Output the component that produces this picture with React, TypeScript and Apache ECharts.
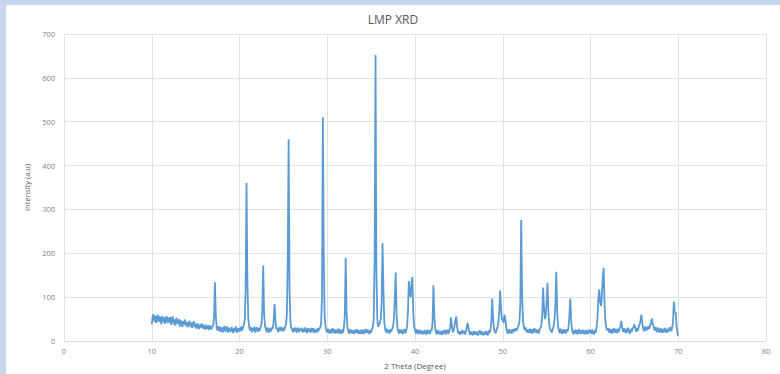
import React, { useEffect, useRef } from "react";
import * as echarts from "echarts";

// Scan settings (uniform 2θ step of the diffractometer scan)
const thetaStart = 10;
const thetaStep = 0.1;

// Intensity (a.u.), 10 values per degree from 10.0° to 70.0°
const intensity: number[] = [
  // 10
  38, 55, 61, 44, 58, 41, 52, 60, 43, 56,
  // 11
  49, 38, 57, 44, 54, 39, 51, 57, 41, 53,
  // 12
  42, 55, 37, 50, 56, 38, 49, 35, 53, 43,
  // 13
  39, 50, 33, 47, 41, 32, 46, 37, 49, 34,
  // 14
  43, 31, 41, 46, 32, 42, 30, 40, 45, 31,
  // 15
  39, 28, 41, 33, 27, 38, 31, 40, 28, 37,
  // 16
  32, 26, 37, 28, 35, 25, 36, 29, 27, 35,
  // 17
  34, 55, 134, 58, 30, 24, 34, 22, 32, 21,
  // 18
  31, 20, 30, 34, 21, 29, 33, 19, 30, 24,
  // 19
  21, 32, 25, 18, 30, 22, 33, 19, 29, 21,
  // 20
  30, 22, 33, 24, 31, 36, 48, 120, 360, 135,
  // 21
  52, 32, 24, 32, 20, 29, 23, 33, 19, 28,
  // 22
  31, 21, 30, 23, 33, 37, 68, 172, 64, 34,
  // 23
  27, 20, 31, 24, 19, 30, 22, 31, 28, 48,
  // 24
  84, 45, 27, 30, 20, 31, 23, 32, 27, 22,
  // 25
  31, 24, 32, 37, 62, 190, 460, 120, 46, 30,
  // 26
  27, 20, 30, 22, 31, 19, 27, 30, 20, 28,
  // 27
  24, 30, 19, 28, 21, 31, 23, 18, 29, 21,
  // 28
  28, 19, 30, 21, 29, 18, 27, 24, 19, 29,
  // 29
  22, 29, 30, 40, 100, 510, 200, 56, 32, 24,
  // 30
  20, 28, 18, 26, 17, 25, 29, 18, 27, 17,
  // 31
  25, 18, 28, 17, 27, 22, 16, 26, 19, 32,
  // 32
  56, 190, 68, 31, 22, 17, 27, 18, 25, 17,
  // 33
  24, 16, 26, 19, 27, 17, 24, 16, 26, 19,
  // 34
  17, 26, 16, 24, 27, 18, 26, 20, 16, 25,
  // 35
  19, 27, 33, 50, 190, 652, 165, 50, 32, 37,
  // 36
  42, 50, 88, 223, 118, 44, 27, 20, 28, 18,
  // 37
  25, 17, 27, 21, 28, 33, 50, 96, 156, 60,
  // 38
  30, 21, 17, 27, 18, 25, 16, 24, 27, 17,
  // 39
  24, 33, 68, 137, 110, 100, 130, 146, 66, 33,
  // 40
  24, 17, 27, 19, 16, 26, 17, 24, 15, 23,
  // 41
  16, 25, 18, 15, 26, 17, 24, 16, 25, 24,
  // 42
  42, 127, 58, 29, 19, 15, 25, 16, 23, 15,
  // 43
  22, 14, 24, 17, 25, 15, 22, 26, 16, 23,
  // 44
  30, 54, 36, 20, 24, 34, 47, 56, 32, 18,
  // 45
  23, 14, 22, 16, 25, 17, 23, 15, 21, 32,
  // 46
  41, 30, 18, 14, 22, 16, 13, 23, 17, 14,
  // 47
  22, 15, 13, 21, 24, 14, 22, 16, 13, 21,
  // 48
  14, 23, 16, 13, 24, 18, 26, 44, 97, 52,
  // 49
  28, 20, 18, 26, 32, 42, 66, 115, 76, 50,
  // 50
  46, 42, 60, 50, 29, 20, 17, 27, 18, 25,
  // 51
  17, 27, 20, 28, 22, 29, 24, 31, 35, 44,
  // 52
  82, 276, 112, 48, 33, 25, 31, 22, 20, 27,
  // 53
  19, 28, 18, 27, 17, 25, 29, 19, 27, 18,
  // 54
  25, 17, 27, 30, 36, 60, 122, 76, 50, 58,
  // 55
  90, 133, 66, 37, 27, 24, 19, 28, 34, 48,
  // 56
  85, 158, 70, 34, 24, 18, 28, 19, 17, 27,
  // 57
  18, 26, 17, 27, 22, 32, 60, 97, 44, 26,
  // 58
  18, 16, 26, 17, 25, 15, 23, 27, 16, 24,
  // 59
  17, 26, 16, 24, 15, 25, 18, 16, 26, 19,
  // 60
  25, 16, 26, 18, 15, 25, 19, 32, 55, 98,
  // 61
  118, 88, 80, 104, 145, 167, 86, 44, 31, 24,
  // 62
  29, 19, 28, 18, 27, 17, 26, 29, 19, 27,
  // 63
  18, 28, 20, 27, 32, 46, 33, 21, 29, 19,
  // 64
  28, 18, 27, 30, 19, 17, 28, 21, 29, 31,
  // 65
  38, 29, 21, 30, 23, 33, 37, 47, 60, 41,
  // 66
  29, 22, 33, 24, 32, 25, 34, 28, 36, 43,
  // 67
  51, 39, 32, 24, 32, 23, 21, 31, 22, 20,
  // 68
  29, 21, 19, 28, 20, 30, 22, 19, 28, 21,
  // 69
  29, 31, 22, 30, 42, 90, 64, 66, 36, 20,
  // 70
  12,
];

const xTicks = [0, 10, 20, 30, 40, 50, 60, 70, 80];
const yTicks = [0, 100, 200, 300, 400, 500, 600, 700];

export default function App() {
  const ref = useRef<HTMLDivElement>(null);

  useEffect(() => {
    if (!ref.current) return;
    const chart = echarts.init(ref.current, undefined, { renderer: "svg" });
    const data = intensity.map((v, i) => [
      Math.round((thetaStart + i * thetaStep) * 10) / 10,
      v,
    ]);
    const font = "'Open Sans', Calibri, 'Liberation Sans', sans-serif";
    chart.setOption({
      animation: false,
      backgroundColor: "#ffffff",
      title: {
        text: "LMP XRD",
        left: "center",
        top: 3,
        textStyle: {
          color: "#595959",
          fontSize: 12,
          fontWeight: "normal",
          fontFamily: font,
        },
      },
      grid: { left: 58, right: 14, top: 29, bottom: 31, containLabel: false },
      xAxis: {
        type: "value",
        min: xTicks[0],
        max: xTicks[xTicks.length - 1],
        interval: 10,
        name: "2 Theta (Degree)",
        nameLocation: "middle",
        nameGap: 20,
        nameTextStyle: { color: "#595959", fontSize: 8, fontFamily: font },
        axisLine: { lineStyle: { color: "#d9d9d9", width: 1 } },
        axisTick: { show: false },
        axisLabel: { color: "#7f7f7f", fontSize: 7.5, margin: 6, fontFamily: font },
        splitLine: { show: true, lineStyle: { color: "#e3e3e3", width: 1 } },
      },
      yAxis: {
        type: "value",
        min: yTicks[0],
        max: yTicks[yTicks.length - 1],
        interval: 100,
        name: "Intensity (a.u)",
        nameLocation: "middle",
        nameGap: 31,
        nameTextStyle: { color: "#595959", fontSize: 7.5, fontFamily: font },
        axisLine: { show: false },
        axisTick: { show: false },
        axisLabel: { color: "#7f7f7f", fontSize: 7.5, margin: 9, fontFamily: font },
        splitLine: { show: true, lineStyle: { color: "#e3e3e3", width: 1 } },
      },
      series: [
        {
          type: "line",
          data,
          showSymbol: false,
          symbol: "none",
          lineStyle: { color: "#5b9bd5", width: 1.8 },
        },
      ],
    });
    return () => chart.dispose();
  }, []);

  return (
    <div
      style={{
        position: "fixed",
        left: 0,
        top: 0,
        width: 780,
        height: 374,
        background: "#c7d6ee",
        overflow: "hidden",
      }}
    >
      <div
        ref={ref}
        style={{
          position: "absolute",
          left: 6,
          top: 5,
          width: 774,
          height: 369,
          background: "#ffffff",
        }}
      />
    </div>
  );
}
